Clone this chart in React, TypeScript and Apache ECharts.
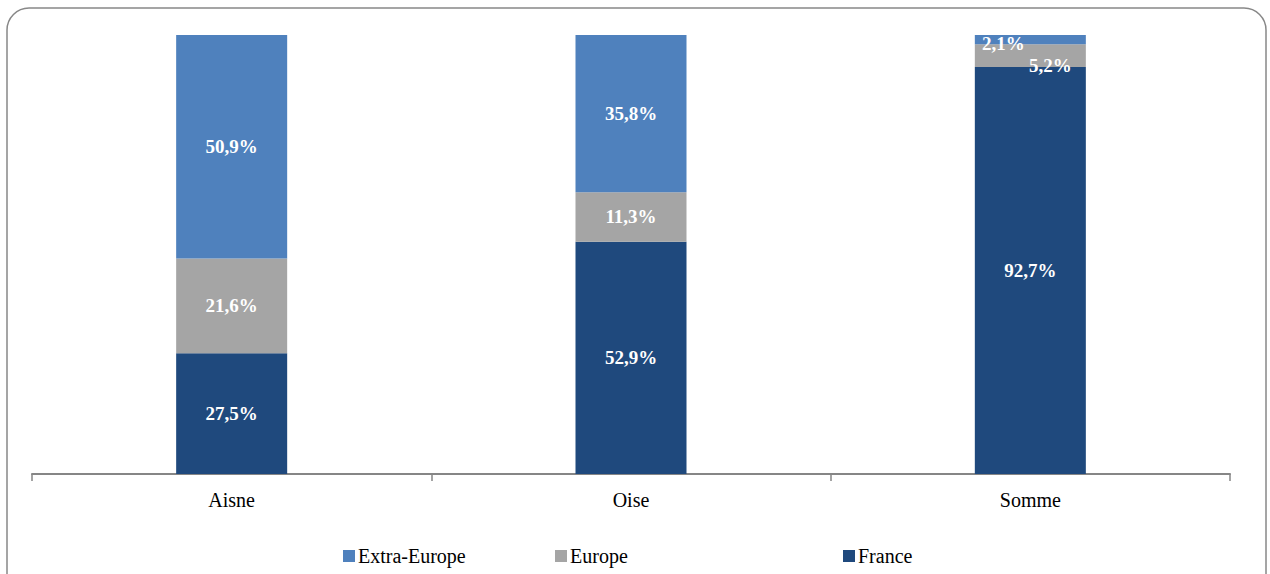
import React, { useEffect, useRef } from "react";
import * as echarts from "echarts";

const categories = ["Aisne", "Oise", "Somme"];
const seriesNames = ["France", "Europe", "Extra-Europe"];
const franceValues = [27.5, 52.9, 92.7];
const europeValues = [21.6, 11.3, 5.2];
const extraEuropeValues = [50.9, 35.8, 2.1];
const colors = ["#1F497D", "#A5A5A5", "#4F81BD"];
const legendOrder = ["Extra-Europe", "Europe", "France"];
const legendLefts = [343, 555, 843];

const FONT = "Liberation Serif";

const fmt = (v: number) => v.toFixed(1).replace(".", ",") + "%";

export default function App() {
  const ref = useRef<HTMLDivElement>(null);
  useEffect(() => {
    if (!ref.current) return;
    const chart = echarts.init(ref.current, undefined, { renderer: "svg" });
    const allValues = [franceValues, europeValues, extraEuropeValues];
    const labelOffsets: Record<string, [number, number][]> = {
      France: [[0, 0], [0, 0], [0, 0]],
      Europe: [[0, 0], [0, 0], [20, 10]],
      "Extra-Europe": [[0, 0], [0, 0], [-27, 4]],
    };
    const series = seriesNames.map((name, si) => ({
      name,
      type: "bar",
      stack: "total",
      barWidth: "27.8%",
      itemStyle: { color: colors[si] },
      label: {
        show: true,
        position: "inside",
        color: "#fff",
        fontFamily: FONT,
        fontWeight: "bold",
        fontSize: 19,
        formatter: (p: any) => fmt(p.value),
      },
      data: allValues[si].map((v, i) => ({
        value: v,
        label: { offset: labelOffsets[name][i] },
      })),
    }));
    const legendTexts = legendOrder.map((n, i) => ({
      type: "text",
      left: legendLefts[i] + 15,
      top: 546,
      silent: true,
      style: {
        text: n,
        fill: "#000",
        font: `20px "${FONT}", serif`,
      },
    }));
    chart.setOption({
      animation: false,
      backgroundColor: "#fff",
      textStyle: { fontFamily: FONT },
      graphic: [
        {
          type: "rect",
          shape: { x: 7, y: 8, width: 1259, height: 620, r: 22 },
          style: { fill: "none", stroke: "#888", lineWidth: 1.5 },
          silent: true,
          z: -10,
        },
        ...legendTexts,
      ],
      legend: legendOrder.map((n, i) => ({
        data: [n],
        left: legendLefts[i],
        top: 550,
        padding: 0,
        itemWidth: 12,
        itemHeight: 12,
        icon: "rect",
        formatter: () => "",
        selectedMode: false,
      })),
      grid: { left: 32, right: 40, top: 35, bottom: 100, containLabel: false },
      xAxis: {
        type: "category",
        data: categories,
        axisLine: { lineStyle: { color: "#868686", width: 2 } },
        axisTick: { show: true, length: 7, lineStyle: { color: "#868686", width: 1.5 } },
        axisLabel: { fontFamily: FONT, fontSize: 20, color: "#000", margin: 16 },
      },
      yAxis: {
        type: "value",
        min: 0,
        max: 100,
        show: false,
        splitLine: { show: false },
      },
      series,
    });
    return () => chart.dispose();
  }, []);
  return (
    <div
      ref={ref}
      style={{ position: "fixed", left: 0, top: 0, width: 1270, height: 574 }}
    />
  );
}
